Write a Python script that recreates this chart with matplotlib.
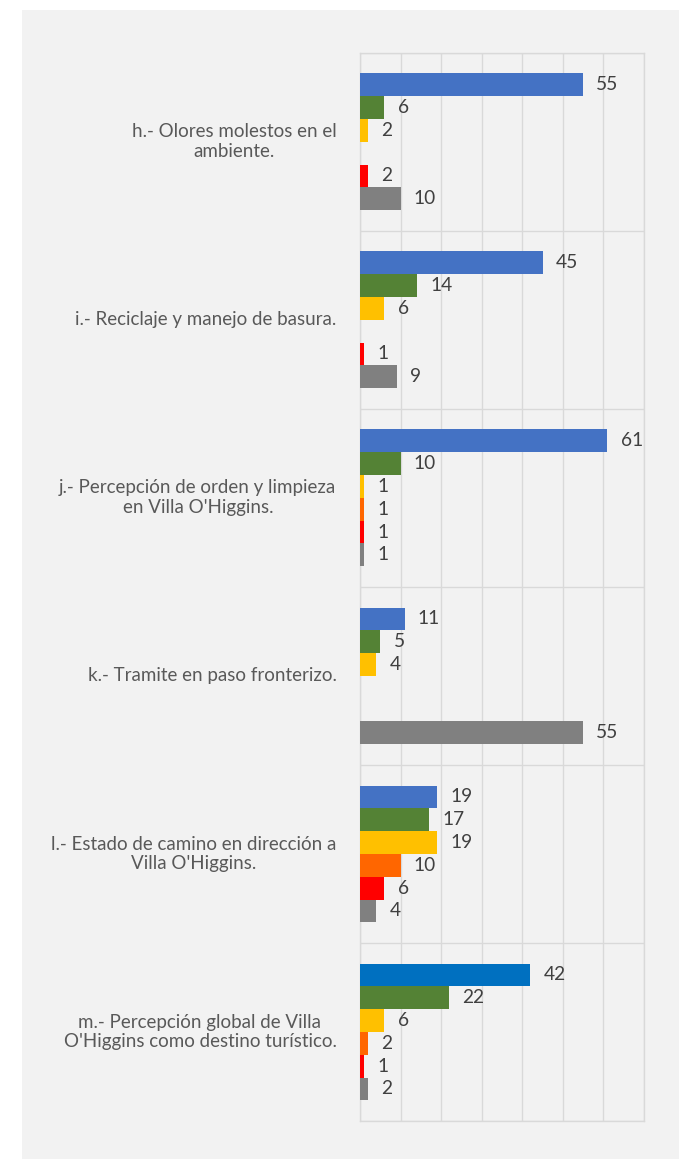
import numpy as np
import matplotlib.pyplot as plt
from matplotlib.patches import Rectangle

categories = [
    "h.- Olores molestos en el\nambiente.",
    "i.- Reciclaje y manejo de basura.",
    "j.- Percepción de orden y limpieza\nen Villa O'Higgins.",
    "k.- Tramite en paso fronterizo.",
    "l.- Estado de camino en dirección a\nVilla O'Higgins.",
    "m.- Percepción global de Villa\nO'Higgins como destino turístico.",
]

# one list per series (colour), values per category, 0 = no bar
s_blue = [55, 45, 61, 11, 19, 42]
s_green = [6, 14, 10, 5, 17, 22]
s_yellow = [2, 6, 1, 4, 19, 6]
s_orange = [0, 0, 1, 0, 10, 2]
s_red = [2, 1, 1, 0, 6, 1]
s_gray = [10, 9, 1, 55, 4, 2]

series = [s_blue, s_green, s_yellow, s_orange, s_red, s_gray]
colors = ["#4472C4", "#548235", "#FFC000", "#FF6600", "#FF0000", "#808080"]
last_blue = "#0070C0"

W, H = 679, 1159
fig = plt.figure(figsize=(W / 100, H / 100), dpi=100)
fig.patch.set_facecolor("white")
bg = Rectangle((22 / W, 0), 1 - 22 / W, 1 - 10 / H, transform=fig.transFigure,
               facecolor="#F2F2F2", edgecolor="none", zorder=-10)
fig.add_artist(bg)

ax = fig.add_axes([360 / W, 1 - 1121 / H, (644 - 360) / W, (1121 - 52.7) / H])
ax.set_facecolor("#F2F2F2")

n = len(categories)
k = len(series)
bh = 0.128
y0 = np.arange(n)

for j, vals in enumerate(series):
    ys = y0 - bh * k / 2 + bh * (j + 0.5)
    cols = [colors[j]] * n
    if j == 0:
        cols[-1] = last_blue
    ax.barh(ys, vals, height=bh, color=cols, zorder=3)
    for y, v in zip(ys, vals):
        if v:
            ax.annotate(str(v), (v, y), xytext=(9.5, 0), textcoords="offset points",
                        ha="left", va="center", fontsize=13.8, color="#404040",
                        family="Lato")

ax.set_xlim(0, 70)
ax.set_ylim(n - 0.5, -0.5)
ax.set_xticks(np.arange(0, 71, 10))
ax.set_yticks(np.arange(-0.5, n, 1), minor=False)
ax.set_yticklabels([])
ax.grid(True, color="#D9D9D9", linewidth=1, zorder=0)
ax.tick_params(length=0, labelbottom=False, labelleft=False)
for sp in ax.spines.values():
    sp.set_color("#D9D9D9")
    sp.set_linewidth(1)

for i, c in enumerate(categories):
    ax.annotate(c, (0, i), xycoords=("axes fraction", "data"), xytext=(-17, 0),
                textcoords="offset points", ha="right", va="center",
                multialignment="center", fontsize=13.5, color="#595959",
                family="Lato", linespacing=1.2)

fig.savefig("out.png", dpi=100, facecolor=fig.get_facecolor())
